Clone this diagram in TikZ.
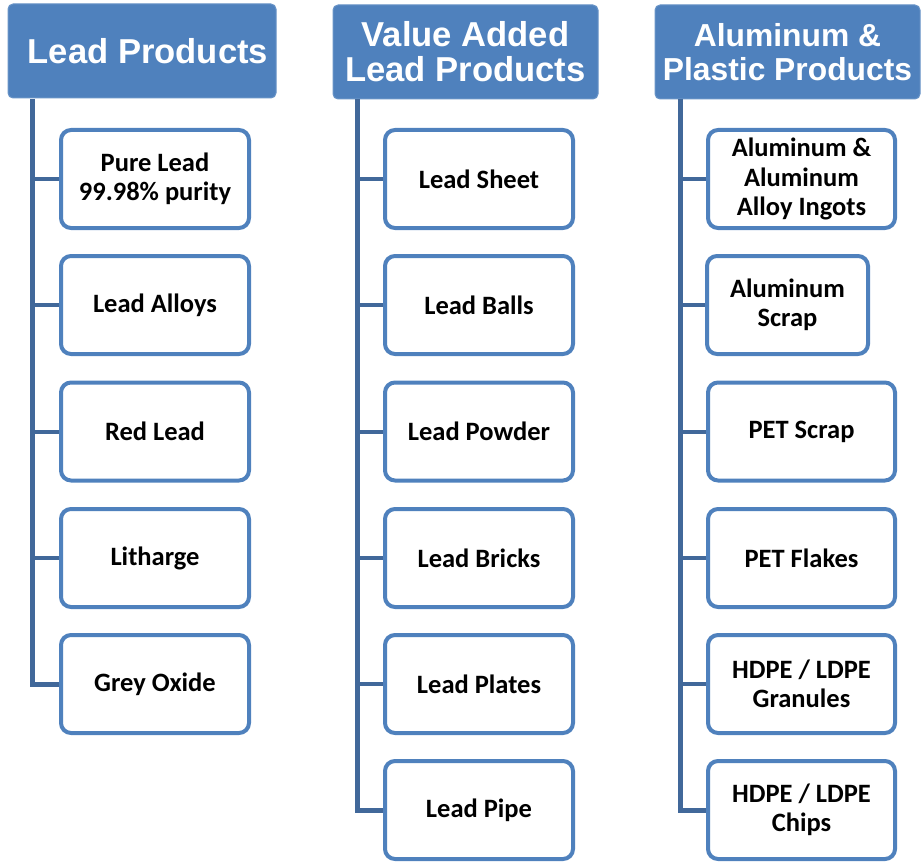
\documentclass[tikz,border=0pt]{standalone}
\usepackage{fontspec}
\newfontfamily\headfont{Liberation Sans}[BoldFont={* Bold}]
\newfontfamily\itemfont{Carlito}[BoldFont={* Bold}]
\definecolor{hblue}{HTML}{4F81BD}
\definecolor{tblue}{HTML}{41689A}
\begin{document}
\begin{tikzpicture}[x=1pt,y=-1pt,
  header/.style={draw=hblue!85!white,line width=1pt,fill=hblue,rounded corners=5pt,
    minimum width=#1,minimum height=94pt,inner sep=0pt,align=center,text=white,
    font=\headfont\bfseries\fontsize{34.6}{35}\selectfont},
  item/.style={draw=hblue,line width=4pt,fill=white,rounded corners=10pt,
    minimum width=#1,minimum height=98pt,inner sep=0pt,align=center,text=black,
    font=\itemfont\bfseries\fontsize{26.5}{29.5}\selectfont},
  item/.default=188pt,
  trunk/.style={draw=tblue,line width=5pt},
  branch/.style={draw=tblue,line width=4pt}]
\useasboundingbox (0,0) rectangle (923,864);
% headers
\node[header=268pt] (h1) at (142,51) {\hspace{12pt}Lead Products};
\node[header=265pt] (h2) at (465.5,52) {Value Added\\Lead Products};
\node[header=265pt,font=\headfont\bfseries\fontsize{31.8}{34}\selectfont] (h3) at (787.5,52) {Aluminum \&\\Plastic Products};
% column 1
\node[item] (a1) at (155,179) {Pure Lead\\99.98\% purity};
\node[item] (a2) at (155,305) {Lead Alloys};
\node[item] (a3) at (155,431.5) {Red Lead};
\node[item] (a4) at (155,558) {Litharge};
\node[item] (a5) at (155,684) {Grey Oxide};
% column 2
\node[item] (b1) at (479,179) {Lead Sheet};
\node[item] (b2) at (479,305) {Lead Balls};
\node[item] (b3) at (479,431.5) {Lead Powder};
\node[item] (b4) at (479,558) {Lead Bricks};
\node[item] (b5) at (479,684) {Lead Plates};
\node[item] (b6) at (479,810) {Lead Pipe};
% column 3
\node[item=187pt] (c1) at (801.5,179) {Aluminum \&\\Aluminum\\Alloy Ingots};
\node[item=161pt] (c2) at (787.5,305) {Aluminum\\Scrap};
\node[item=187pt] (c3) at (801.5,431.5) {PET Scrap};
\node[item=187pt] (c4) at (801.5,558) {PET Flakes};
\node[item=187pt] (c5) at (801.5,684) {HDPE / LDPE\\Granules};
\node[item=187pt] (c6) at (801.5,810) {HDPE / LDPE\\Chips};
% trunks
\coordinate (t1) at (32,99);
\coordinate (t2) at (357,99);
\coordinate (t3) at (680,99);
\draw[trunk] (t1) |- (a5.west);
\draw[trunk] (t2) |- (b6.west);
\draw[trunk] (t3) |- (c6.west);
\foreach \n in {a1,a2,a3,a4} \draw[branch] (t1 |- \n.west) -- (\n.west);
\foreach \n in {b1,b2,b3,b4,b5} \draw[branch] (t2 |- \n.west) -- (\n.west);
\foreach \n in {c1,c2,c3,c4,c5} \draw[branch] (t3 |- \n.west) -- (\n.west);
\end{tikzpicture}
\end{document}
